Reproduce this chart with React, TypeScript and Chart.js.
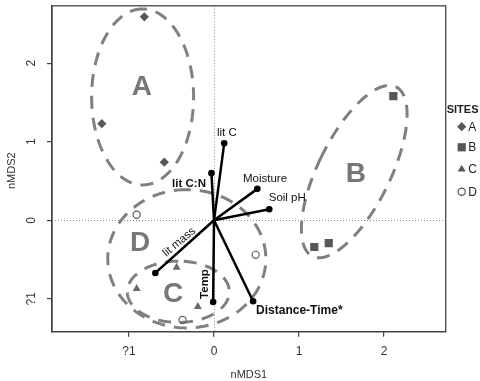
import React, { useEffect, useRef } from 'react';
import { Chart, registerables } from 'chart.js';

Chart.register(...registerables);

// nMDS site scores
const siteAX = [-0.82, -1.32, -0.585];
const siteAY = [2.59, 1.23, 0.74];
const siteBX = [2.11, 1.18, 1.35];
const siteBY = [1.58, -0.34, -0.29];
const siteCX = [-0.44, -0.91, -0.19];
const siteCY = [-0.6, -0.87, -1.1];
const siteDX = [-0.91, -0.37, 0.49];
const siteDY = [0.07, -1.27, -0.44];

// fitted environmental vectors
const vectorNames = ['lit C', 'lit C:N', 'Moisture', 'Soil pH', 'lit mass', 'Temp', 'Distance-Time*'];
const vectorX = [0.12, -0.03, 0.51, 0.65, -0.69, -0.01, 0.46];
const vectorY = [0.98, 0.6, 0.4, 0.14, -0.67, -1.04, -1.03];

// site group ellipses (centre, semi-axes, rotation in degrees), nMDS units
const groupNames = ['A', 'B', 'C', 'D'];
const ellipseCX = [-0.84, 1.65, -0.42, -0.32];
const ellipseCY = [1.57, 0.62, -0.91, -0.49];
const ellipseSemiA = [0.6, 1.185, 0.6, 0.93];
const ellipseSemiB = [1.12, 0.43, 0.39, 0.88];
const ellipseAngle = [0, 66, 0, 0];
const groupLabelX = [-0.85, 1.67, -0.48, -0.87];
const groupLabelY = [1.71, 0.6, -0.935, -0.286];

// axis ticks
const xTicks = [-1, 0, 1, 2];
const yTicks = [-1, 0, 1, 2];
const tickText = (v: number) => (v < 0 ? '?' + Math.abs(v) : String(v));

const FONT = '"Liberation Sans", Arial, Helvetica, sans-serif';
const MARK = '#575757';

// where each vector label sits (nMDS units), its weight and rotation
const vectorLabelX = [0.035, -0.294, 0.6, 0.862, -0.41, -0.106, 0.495];
const vectorLabelY = [1.107, 0.462, 0.532, 0.28, -0.277, -0.811, -1.145];
const vectorLabelBold = [false, true, false, false, false, true, true];
const vectorLabelAlign: CanvasTextAlign[] = ['left', 'center', 'center', 'center', 'center', 'center', 'left'];
const vectorLabelRot = [0, 0, 0, 0, -40, -90, 0];

const toPts = (xs: number[], ys: number[]) => xs.map((x, i) => ({ x, y: ys[i] }));

const overlay = {
  id: 'ordinationOverlay',
  beforeDatasetsDraw(chart: any) {
    const { ctx, chartArea: ca, scales } = chart;
    const xs = scales.x;
    const ys = scales.y;
    ctx.save();
    // zero reference lines
    ctx.strokeStyle = '#8a8a8a';
    ctx.lineWidth = 1;
    ctx.setLineDash([1, 2]);
    const x0 = Math.round(xs.getPixelForValue(0)) + 0.5;
    const y0 = Math.round(ys.getPixelForValue(0)) + 0.5;
    ctx.beginPath();
    ctx.moveTo(x0, ca.top);
    ctx.lineTo(x0, ca.bottom);
    ctx.moveTo(ca.left, y0);
    ctx.lineTo(ca.right, y0);
    ctx.stroke();

    // group ellipses
    ctx.strokeStyle = '#808080';
    ctx.lineWidth = 3;
    ctx.setLineDash([13, 9]);
    groupNames.forEach((_, i) => {
      const th = (ellipseAngle[i] * Math.PI) / 180;
      ctx.beginPath();
      const n = 160;
      for (let k = 0; k <= n; k++) {
        const t = (k / n) * Math.PI * 2 + Math.PI / 2;
        const dx = ellipseSemiA[i] * Math.cos(t);
        const dy = ellipseSemiB[i] * Math.sin(t);
        const x = ellipseCX[i] + dx * Math.cos(th) - dy * Math.sin(th);
        const y = ellipseCY[i] + dx * Math.sin(th) + dy * Math.cos(th);
        const px = xs.getPixelForValue(x);
        const py = ys.getPixelForValue(y);
        if (k === 0) ctx.moveTo(px, py);
        else ctx.lineTo(px, py);
      }
      ctx.stroke();
    });
    ctx.setLineDash([]);

    // group letters
    ctx.fillStyle = '#777777';
    ctx.font = `bold 28px ${FONT}`;
    ctx.textAlign = 'center';
    ctx.textBaseline = 'middle';
    groupNames.forEach((g, i) => {
      ctx.fillText(g, xs.getPixelForValue(groupLabelX[i]), ys.getPixelForValue(groupLabelY[i]) + 1);
    });
    ctx.restore();
  },
  afterDatasetsDraw(chart: any) {
    const { ctx, chartArea: ca, scales } = chart;
    const xs = scales.x;
    const ys = scales.y;
    ctx.save();

    // vector labels
    ctx.fillStyle = '#111111';
    ctx.textBaseline = 'middle';
    vectorNames.forEach((name, i) => {
      ctx.save();
      ctx.translate(xs.getPixelForValue(vectorLabelX[i]), ys.getPixelForValue(vectorLabelY[i]));
      ctx.rotate((vectorLabelRot[i] * Math.PI) / 180);
      const size = name === 'Distance-Time*' ? 12 : 11.5;
      ctx.font = `${vectorLabelBold[i] ? 'bold ' : ''}${size}px ${FONT}`;
      ctx.textAlign = vectorLabelAlign[i];
      ctx.fillText(name, 0, 0);
      ctx.restore();
    });

    // frame
    ctx.strokeStyle = '#444444';
    ctx.lineWidth = 1.3;
    ctx.strokeRect(ca.left, ca.top, ca.right - ca.left, ca.bottom - ca.top);

    // tick labels
    ctx.fillStyle = '#333333';
    ctx.font = `12px ${FONT}`;
    ctx.textAlign = 'center';
    ctx.textBaseline = 'middle';
    xTicks.forEach((v) => ctx.fillText(tickText(v), xs.getPixelForValue(v), ca.bottom + 20));
    yTicks.forEach((v) => {
      ctx.save();
      ctx.translate(ca.left - 20, ys.getPixelForValue(v));
      ctx.rotate(-Math.PI / 2);
      ctx.fillText(tickText(v), 0, 0);
      ctx.restore();
    });

    // axis titles
    ctx.font = `11px ${FONT}`;
    ctx.fillText('nMDS1', (ca.left + ca.right) / 2, ca.bottom + 43);
    ctx.save();
    ctx.translate(12, (ca.top + ca.bottom) / 2 + 2);
    ctx.rotate(-Math.PI / 2);
    ctx.fillText('nMDS2', 0, 0);
    ctx.restore();

    // legend
    const lx = ca.right + 16;
    ctx.textAlign = 'left';
    ctx.font = `bold 11px ${FONT}`;
    ctx.fillStyle = '#222222';
    ctx.fillText('SITES', ca.right + 1, 110);
    const rows = [126.7, 147.3, 169.3, 191.7];
    const styles = ['rectRot', 'rect', 'triangle', 'circle'];
    const radii = [4.6, 5.8, 4.6, 3.6];
    ctx.font = `12px ${FONT}`;
    groupNames.forEach((g, i) => {
      const y = rows[i];
      ctx.beginPath();
      ctx.fillStyle = MARK;
      ctx.strokeStyle = MARK;
      ctx.lineWidth = 1.2;
      const r = radii[i];
      if (styles[i] === 'rectRot') {
        ctx.moveTo(lx, y - r);
        ctx.lineTo(lx + r, y);
        ctx.lineTo(lx, y + r);
        ctx.lineTo(lx - r, y);
        ctx.closePath();
        ctx.fill();
      } else if (styles[i] === 'rect') {
        const s = r * Math.SQRT1_2;
        ctx.rect(lx - s, y - s, 2 * s, 2 * s);
        ctx.fill();
      } else if (styles[i] === 'triangle') {
        ctx.moveTo(lx, y - r);
        ctx.lineTo(lx + r * 0.866, y + r * 0.5);
        ctx.lineTo(lx - r * 0.866, y + r * 0.5);
        ctx.closePath();
        ctx.fill();
      } else {
        ctx.arc(lx, y, r, 0, Math.PI * 2);
        ctx.stroke();
      }
      ctx.fillStyle = '#222222';
      ctx.fillText(g, lx + 6.5, y + 0.5);
    });
    ctx.restore();
  },
};

export default function App() {
  const canvasRef = useRef<HTMLCanvasElement | null>(null);

  useEffect(() => {
    const canvas = canvasRef.current;
    if (!canvas) return;

    const vectorSets = vectorNames.map((name, i) => ({
      label: name,
      data: [
        { x: 0, y: 0 },
        { x: vectorX[i], y: vectorY[i] },
      ],
      showLine: true,
      borderColor: '#000000',
      borderWidth: 2.5,
      pointRadius: [0, 3.3],
      pointBackgroundColor: '#000000',
      pointBorderColor: '#000000',
      pointBorderWidth: 0,
      order: 1,
    }));

    const siteSets = [
      { label: 'A', data: toPts(siteAX, siteAY), pointStyle: 'rectRot', pointRadius: 4.6, pointBackgroundColor: MARK, pointBorderWidth: 0 },
      { label: 'B', data: toPts(siteBX, siteBY), pointStyle: 'rect', pointRadius: 5.8, pointBackgroundColor: MARK, pointBorderWidth: 0 },
      { label: 'C', data: toPts(siteCX, siteCY), pointStyle: 'triangle', pointRadius: 4.6, pointBackgroundColor: '#6a6a6a', pointBorderWidth: 0 },
      {
        label: 'D',
        data: toPts(siteDX, siteDY),
        pointStyle: 'circle',
        pointRadius: 3.6,
        pointBackgroundColor: 'rgba(255,255,255,0)',
        pointBorderColor: '#606060',
        pointBorderWidth: 1.2,
      },
    ].map((d) => ({ ...d, showLine: false, order: 0 }));

    const chart = new Chart(canvas, {
      type: 'scatter',
      data: { datasets: [...vectorSets, ...siteSets] as any },
      options: {
        animation: false,
        responsive: false,
        devicePixelRatio: 1,
        layout: { padding: { top: 2, right: 34.3, left: 0, bottom: 0 } },
        plugins: { legend: { display: false }, tooltip: { enabled: false } },
        scales: {
          x: {
            type: 'linear',
            min: -1.906,
            max: 2.726,
            afterBuildTicks: (s: any) => {
              s.ticks = xTicks.map((value) => ({ value }));
            },
            afterFit: (s: any) => {
              s.height = 49.3;
            },
            ticks: { display: false },
            grid: { drawOnChartArea: false, drawTicks: true, tickLength: 5, color: '#444444', lineWidth: 1.2 },
            border: { display: true, color: '#444444', width: 1.3 },
          },
          y: {
            type: 'linear',
            min: -1.418,
            max: 2.73,
            afterBuildTicks: (s: any) => {
              s.ticks = yTicks.map((value) => ({ value }));
            },
            afterFit: (s: any) => {
              s.width = 52;
            },
            ticks: { display: false },
            grid: { drawOnChartArea: false, drawTicks: true, tickLength: 5, color: '#444444', lineWidth: 1.2 },
            border: { display: true, color: '#444444', width: 1.3 },
          },
        },
      },
      plugins: [overlay],
    });

    return () => chart.destroy();
  }, []);

  return (
    <div style={{ position: 'absolute', left: 0, top: 0, width: 480, height: 381, background: '#ffffff' }}>
      <canvas ref={canvasRef} width={480} height={381} style={{ display: 'block' }} />
    </div>
  );
}
